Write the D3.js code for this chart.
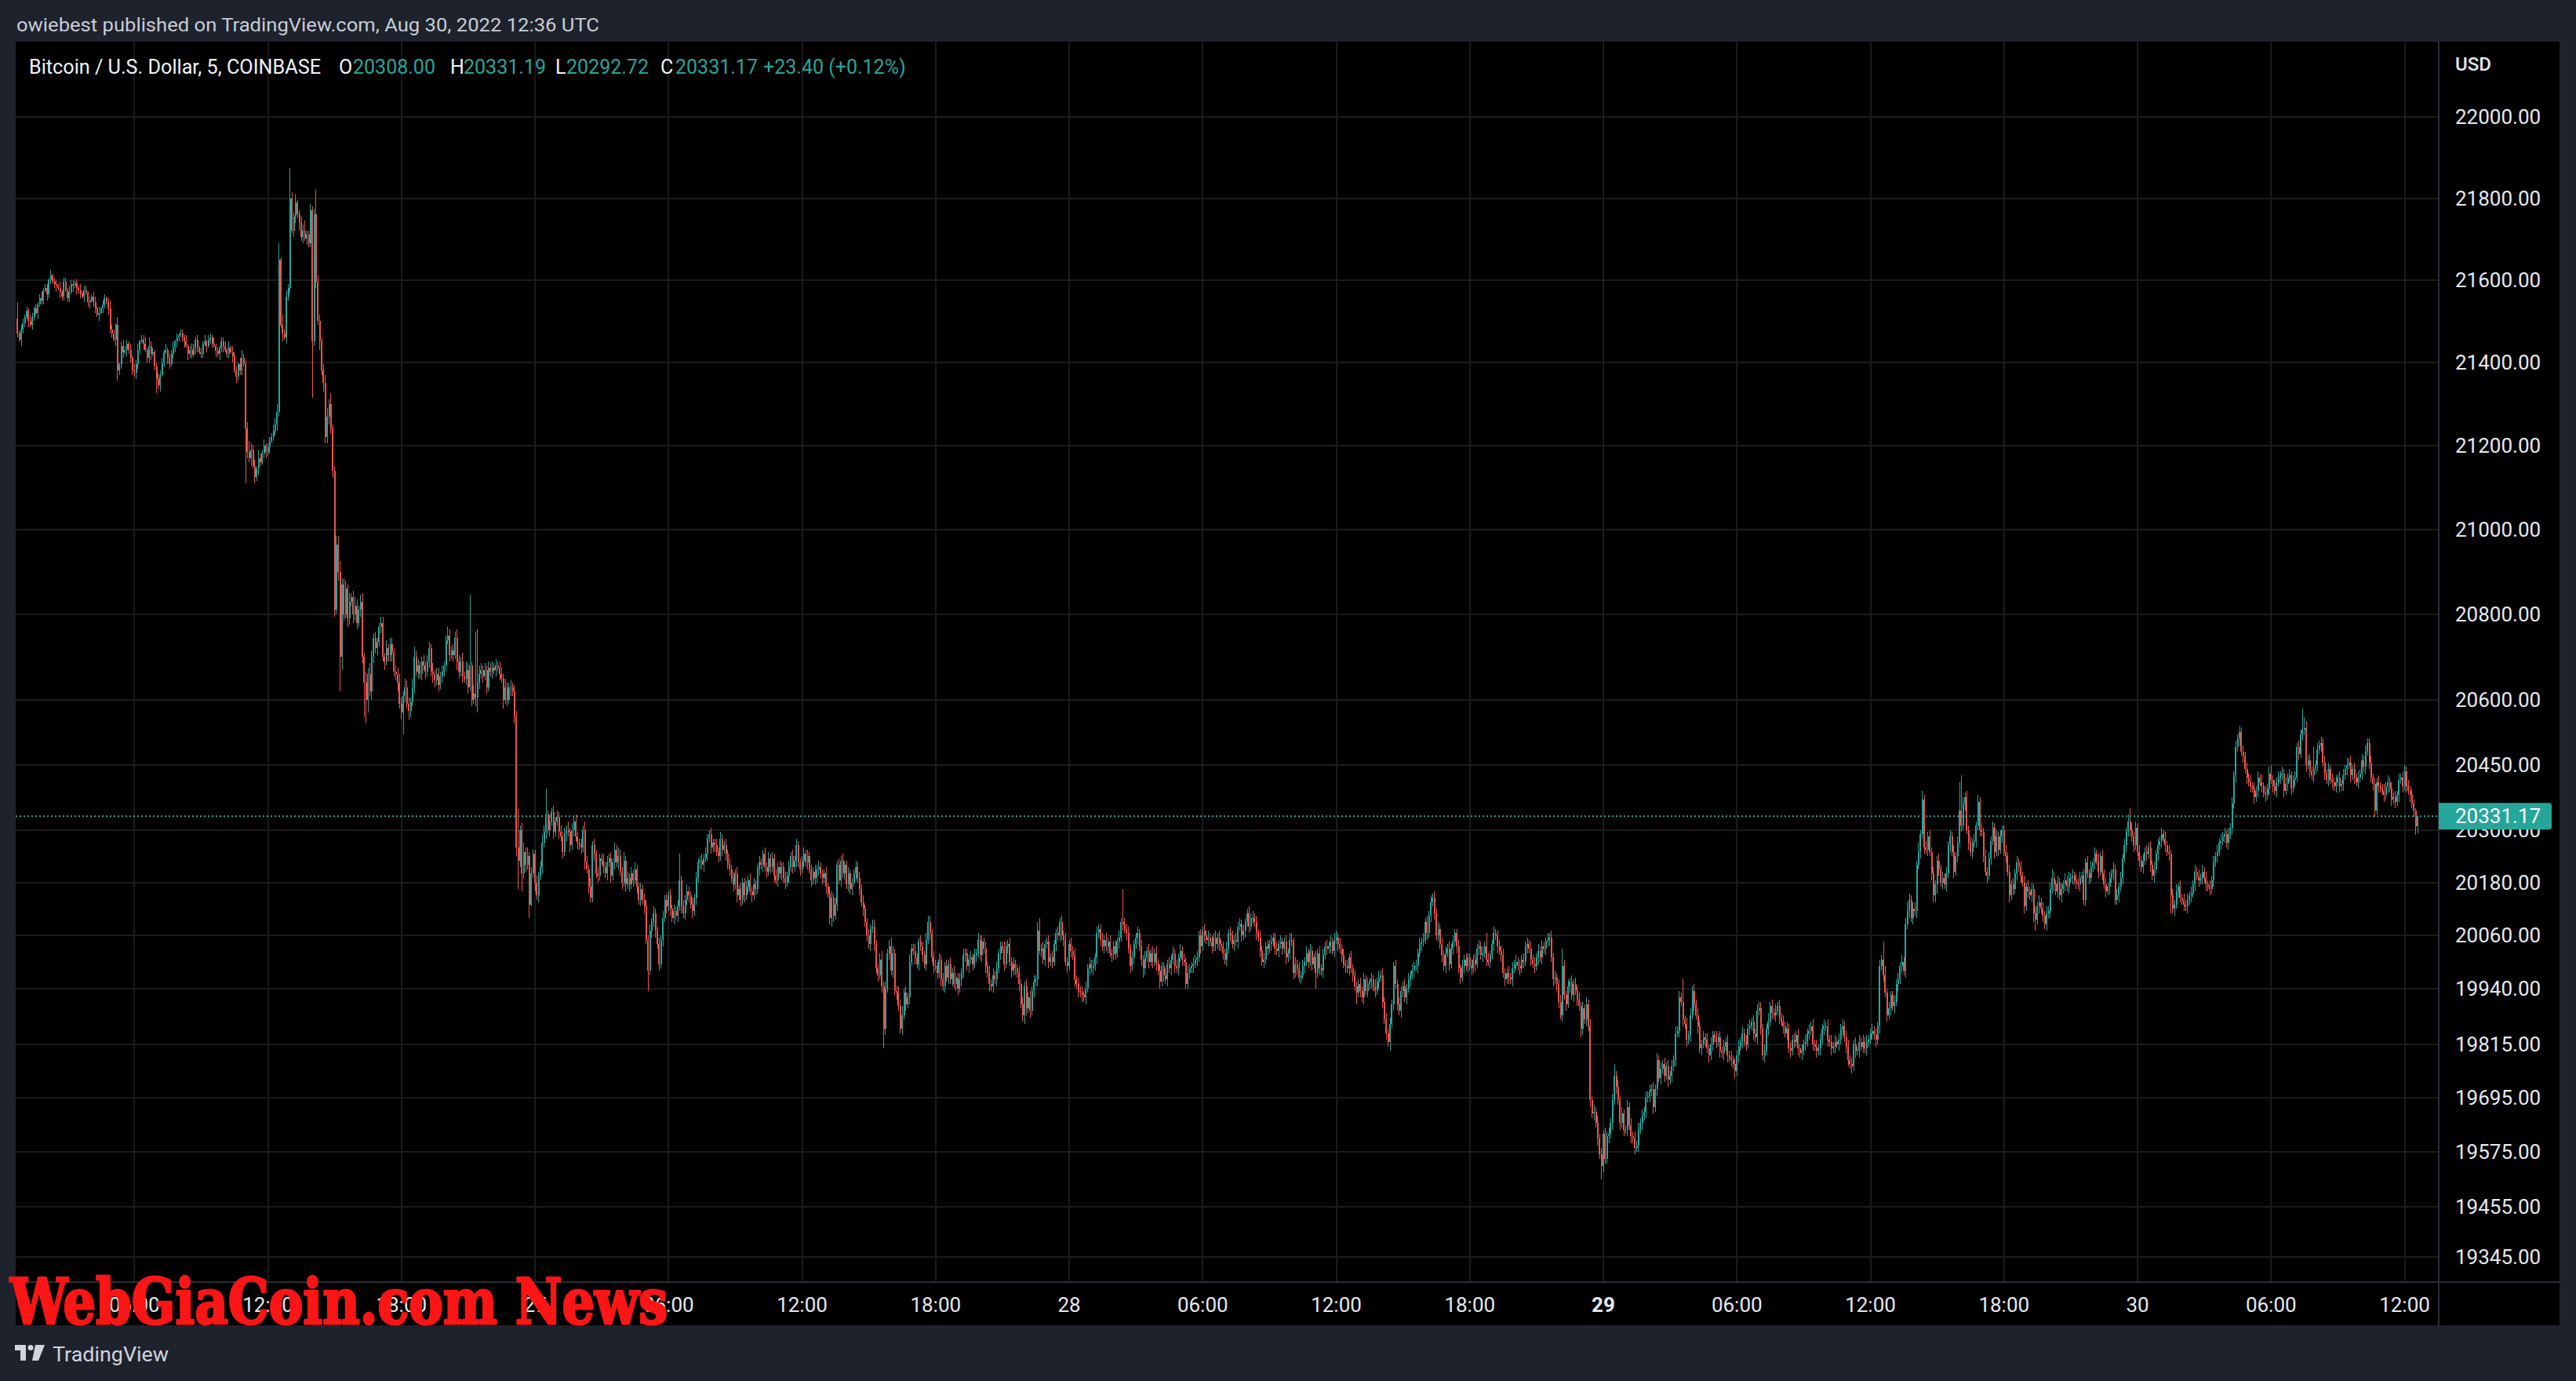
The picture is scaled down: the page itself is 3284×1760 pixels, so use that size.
<!DOCTYPE html>
<html><head><meta charset="utf-8">
<script src="https://cdn.jsdelivr.net/npm/d3@7"></script>
<style>html,body{margin:0;padding:0;background:#1e222d;overflow:hidden}svg{display:block}</style>
</head><body>
<svg id="chart" width="3284" height="1760"></svg>
<script>
// ---------------- DATA ----------------
const headerText = "owiebest published on TradingView.com, Aug 30, 2022 12:36 UTC";
const symbolText = "Bitcoin / U.S. Dollar, 5, COINBASE";
const ohlcLabels = ["O", "H", "L", "C"];
const ohlcValues = ["20308.00", "20331.19", "20292.72", "20331.17"];
const changeText = "+23.40 (+0.12%)";
const lastPrice = 20331.17;
const currency = "USD";
const watermarkText = "WebGiaCoin.com News";
const brandText = "TradingView";

const priceTicks = [22000, 21800, 21600, 21400, 21200, 21000, 20800, 20600, 20450, 20300,
  20180, 20060, 19940, 19815, 19695, 19575, 19455, 19345];

const timeTickDates = [
  "2022-08-26T06:00Z","2022-08-26T12:00Z","2022-08-26T18:00Z","2022-08-27T00:00Z",
  "2022-08-27T06:00Z","2022-08-27T12:00Z","2022-08-27T18:00Z","2022-08-28T00:00Z",
  "2022-08-28T06:00Z","2022-08-28T12:00Z","2022-08-28T18:00Z","2022-08-29T00:00Z",
  "2022-08-29T06:00Z","2022-08-29T12:00Z","2022-08-29T18:00Z","2022-08-30T00:00Z",
  "2022-08-30T06:00Z","2022-08-30T12:00Z"];
const timeTickLabels = ["06:00","12:00","18:00","27","06:00","12:00","18:00","28",
  "06:00","12:00","18:00","29","06:00","12:00","18:00","30","06:00","12:00"];
const timeTickBold = ["29"];

// 5-minute candles, first candle Aug 26 00:45 UTC; one row per hour
const firstCandle = "2022-08-26T00:45Z";
const firstOpen = 21505;
const closes = [
21470,21455,21480,
21495,21510,21525,21500,21490,21510,21530,21520,21540,21555,21550,21575,
21580,21565,21600,21610,21595,21590,21585,21580,21570,21560,21595,21575,
21555,21570,21590,21585,21592,21580,21575,21565,21560,21575,21568,21545,
21550,21560,21545,21530,21515,21520,21530,21540,21555,21545,21530,21480,
21470,21455,21490,21380,21395,21440,21425,21430,21445,21430,21410,21380,
21375,21395,21430,21450,21455,21445,21430,21410,21440,21420,21425,21390,
21360,21345,21370,21400,21425,21430,21410,21395,21420,21435,21450,21460,
21465,21470,21460,21450,21440,21420,21430,21418,21435,21455,21435,21425,
21420,21445,21450,21440,21455,21460,21445,21440,21428,21420,21435,21450,
21440,21430,21420,21435,21425,21415,21380,21365,21395,21380,21410,21395,
21240,21185,21170,21190,21150,21125,21145,21170,21160,21180,21200,21185,
21195,21210,21220,21235,21250,21280,21650,21490,21470,21460,21560,21580,
21800,21720,21755,21790,21760,21740,21705,21720,21700,21710,21690,21770,
21450,21760,21595,21500,21450,21380,21350,21220,21270,21300,21240,21140,
20810,20965,20900,20700,20870,20800,20860,20790,20830,20840,20800,20820,
20780,20810,20830,20700,20640,20600,20660,20620,20700,20745,20720,20735,
20770,20780,20700,20690,20720,20705,20730,20710,20665,20660,20640,20590,
20570,20610,20630,20590,20575,20595,20630,20700,20665,20680,20660,20690,
20680,20665,20690,20720,20665,20660,20645,20660,20635,20655,20665,20680,
20740,20750,20705,20715,20705,20745,20690,20665,20690,20655,20650,20670,
20630,20680,20600,20615,20605,20640,20660,20670,20655,20670,20630,20675,
20665,20675,20670,20680,20675,20660,20650,20600,20630,20600,20625,20630,
20620,20560,20260,20230,20300,20200,20250,20220,20240,20130,20200,20245,
20180,20150,20195,20215,20270,20295,20335,20300,20320,20340,20295,20320,
20330,20295,20285,20250,20290,20300,20295,20265,20300,20320,20285,20270,
20265,20260,20300,20225,20210,20170,20145,20265,20245,20200,20195,20235,
20230,20215,20200,20225,20235,20195,20225,20255,20225,20240,20205,20180,
20230,20175,20190,20175,20200,20185,20210,20170,20140,20165,20140,20125,
20050,19980,20070,20090,20110,20070,20040,19995,20050,20100,20140,20125,
20150,20120,20100,20115,20105,20125,20185,20125,20110,20140,20160,20150,
20130,20115,20145,20190,20225,20230,20220,20235,20245,20280,20290,20260,
20270,20265,20250,20240,20280,20255,20265,20245,20220,20210,20190,20175,
20200,20150,20165,20140,20180,20150,20170,20185,20160,20150,20175,20165,
20210,20225,20220,20245,20215,20205,20235,20215,20235,20195,20185,20215,
20200,20215,20190,20180,20195,20215,20240,20215,20230,20265,20225,20210,
20230,20245,20225,20240,20210,20185,20205,20190,20210,20215,20200,20190,
20200,20170,20155,20100,20145,20105,20130,20220,20185,20230,20200,20220,
20175,20200,20165,20180,20200,20215,20190,20165,20135,20120,20090,20060,
20040,20075,20080,20040,19985,19970,20005,19945,19850,19940,20020,20035,
19980,20020,19935,19930,19900,19850,19880,19930,19905,19920,20000,20030,
20025,20010,19995,20045,20035,20015,19995,20050,20090,20065,20010,19990,
19990,19975,20005,19960,19945,19990,19965,19995,19960,19975,19950,19965,
19940,19960,19975,20015,20020,19990,20005,20010,19995,20015,20020,20050,
20015,20045,20030,19990,19975,19950,19945,19970,19960,19985,20020,20035,
20030,19995,20035,20040,20000,19980,19995,19985,19975,19950,19905,19880,
19945,19895,19920,19890,19935,19955,19960,20070,20025,20030,20005,20040,
20045,20000,20010,20000,20040,20065,20060,20090,20060,20050,20000,19990,
20040,20025,20015,19960,19950,19935,19930,19925,19920,19940,19985,19995,
19985,19990,20010,20065,20075,20050,20035,20050,20035,20045,20020,20015,
20035,20020,20045,20055,20090,20085,20075,20065,20030,19990,20010,20040,
20055,20065,20035,20005,19985,20010,20025,20000,20020,20000,20020,19995,
19980,19955,19990,19970,19960,19995,19985,20005,20020,19990,19985,20010,
20025,20005,20000,19950,19975,19985,19990,19995,20005,20010,20060,20035,
20070,20060,20050,20055,20045,20035,20055,20040,20055,20040,20035,20020,
20005,20030,20065,20060,20040,20050,20045,20080,20085,20060,20070,20090,
20110,20080,20100,20100,20090,20065,20055,20025,20000,20005,20035,20030,
20040,20045,20055,20030,20025,20040,20045,20030,20045,20010,20020,20050,
20045,19975,19995,19985,19965,19970,19990,20000,20020,20000,20025,19995,
20010,19975,20020,19985,19980,20015,20035,20030,20035,20045,20025,20050,
20055,20040,20030,20015,19995,19990,19985,20010,19985,19970,19945,19930,
19950,19935,19920,19960,19935,19950,19955,19960,19945,19935,19955,19965,
19970,19910,19870,19840,19820,19860,19905,19990,19950,19905,19890,19935,
19945,19920,19940,19960,19970,19980,19990,19990,20020,20040,20045,20050,
20090,20065,20105,20135,20145,20110,20060,20075,20040,20015,19990,20020,
20030,19995,20030,20045,20065,20035,19985,19965,19990,20005,19990,20010,
19990,19985,20005,19995,20030,20035,20015,20020,20035,20005,20000,20015,
20040,20065,20060,20035,20025,20015,19975,19960,19975,19965,19960,19985,
19995,20000,19990,19985,20005,20000,20035,20040,20030,20005,19995,19990,
20010,20025,20010,20035,20030,20045,20050,20055,20010,19960,19965,19950,
19910,19880,19990,19925,19905,19945,19955,19925,19950,19935,19915,19900,
19850,19895,19870,19905,19855,19690,19660,19665,19640,19605,19570,19545,
19615,19560,19610,19615,19640,19690,19745,19720,19690,19640,19660,19625,
19625,19675,19635,19610,19605,19585,19590,19625,19640,19655,19665,19695,
19700,19710,19715,19675,19715,19780,19740,19760,19770,19745,19765,19735,
19745,19765,19780,19840,19845,19920,19910,19870,19860,19825,19835,19880,
19935,19905,19880,19855,19805,19815,19830,19825,19805,19790,19815,19835,
19830,19820,19830,19800,19795,19810,19820,19790,19785,19780,19770,19755,
19790,19810,19820,19840,19820,19815,19850,19855,19865,19840,19830,19890,
19895,19850,19790,19800,19850,19865,19900,19885,19880,19890,19900,19875,
19865,19855,19840,19850,19805,19800,19825,19820,19835,19805,19795,19800,
19815,19820,19840,19845,19855,19815,19810,19800,19805,19825,19850,19855,
19855,19825,19820,19805,19810,19820,19815,19825,19850,19855,19830,19810,
19780,19770,19765,19815,19800,19800,19820,19810,19820,19805,19820,19825,
19840,19845,19835,19825,19855,19990,20005,19970,19930,19880,19895,19925,
19900,19910,19950,19960,19990,20000,19980,20085,20115,20140,20100,20120,
20115,20220,20250,20290,20370,20260,20255,20285,20250,20200,20150,20175,
20230,20210,20180,20190,20175,20200,20265,20285,20250,20205,20240,20270,
20345,20310,20360,20375,20300,20270,20250,20270,20275,20310,20365,20300,
20295,20240,20205,20195,20235,20275,20305,20250,20285,20255,20285,20300,
20250,20240,20205,20150,20175,20165,20200,20225,20215,20195,20180,20125,
20170,20160,20150,20165,20110,20095,20125,20135,20120,20105,20085,20110,
20115,20165,20190,20175,20160,20180,20150,20165,20175,20185,20170,20190,
20190,20195,20185,20180,20175,20190,20195,20140,20225,20200,20190,20215,
20225,20245,20230,20205,20240,20200,20175,20160,20170,20190,20200,20210,
20140,20150,20170,20190,20235,20265,20295,20320,20300,20285,20265,20305,
20250,20230,20215,20230,20250,20245,20260,20220,20195,20210,20245,20265,
20275,20290,20280,20265,20250,20245,20150,20120,20130,20160,20170,20145,
20140,20130,20125,20140,20150,20155,20175,20205,20195,20185,20190,20205,
20190,20175,20170,20165,20185,20225,20240,20250,20270,20275,20285,20290,
20270,20290,20305,20360,20425,20490,20510,20525,20480,20470,20440,20420,
20410,20400,20395,20375,20390,20420,20410,20400,20385,20380,20395,20430,
20415,20400,20390,20410,20420,20425,20430,20390,20405,20420,20425,20395,
20415,20420,20490,20475,20520,20530,20535,20450,20460,20435,20425,20440,
20450,20485,20495,20500,20455,20430,20415,20440,20415,20410,20400,20410,
20420,20400,20405,20425,20440,20450,20455,20425,20440,20420,20410,20420,
20430,20460,20445,20480,20500,20455,20420,20405,20345,20410,20400,20395,
20390,20380,20400,20410,20395,20370,20375,20365,20380,20415,20420,20400,
20435,20400,20390,20380,20360,20345,20308,20331.17
];
// upper / lower wick length per candle, base-36 digit x 5 USD, one group per hour
const wickUpCodes = ["812",
"212132121231","221312213122","132212131221","212313122124","221412322131","323122314221",
"232213122312","122131232121","213122131212","221313221342","235323142231","222334815232",
"f32412335223","23c332344252","244533424234","323425353232","233242332334","324332453322",
"323324233232","243233432424","3x24tp432323","232323324233","233i23424232","232343c23232",
"323232423232","232432423232","232323232432","423232322323","323232232323","232323c23232",
"232322323223","223232232323","232322323232","232232323232","322323232322","232322232322",
"232332323232","232223232322","323322342323","432233423232","232232233323","323232323232",
"232322232323","232323232322","232232322323","232323246232","232322323232","232323232323",
"232322323232","23232f323232","232323232323","232232323232","323232232323","232323232322",
"232322323232","232323232323","232232322323","323232323232","232323232323","323232323222",
"232323232323","232323223232","232323232323","232323232323","232322323232","232323232632",
"232232322323","232323232323","232322323232","238323232323","232323232323","232323523232",
"232323232323","232323232323","2323232a2323","232322323232","232323232323","232323232323",
"332324232323","232323232323","232323232323","232323232323","323232323232","232323284232",
"232323234323","324242323232","232323232323","dg3232323232","323232323232","232323232323",
"232323232323","234323232323","232323232323","232323232323","232323236323","232323232323",
"232323232323","232323232323","232323232323","232323232323","232323232323","423232323232",
"23232a53232a","232323232323","232323232323","232322323232","232323232323","32323210"].join("");
const wickDnCodes = ["213",
"221312213122","132212313221","221313221312","312213122132","213522313222","232213122312",
"723121321223","212313221321","221312213132","312213132221","q32413232123","231223214132",
"213324231322","r23242433423","324g63243243","3233gb624323","232423342342","3a3243232323",
"232324323232","323232432323","323247323232","232323242323","234d38232612","423232323232",
"232323232323","232323223232","232323232323","232323232323","292323232323","232323232323",
"232323232323","232323232323","232323232323","232323232323","232323232323","232323232323",
"232343232323","232323232323","232323239323","232322323232","232323232323","232323232323",
"323232323232","232323232323","232323232323","432323232323","232323232323","232323232323",
"232323232323","232323232323","232343232323","232323232323","232223232323","232323232323",
"232323232323","232323232323","232323232323","232323232323","272323232323","232323232325",
"232323232323","232324232323","323232323232","232323232323","232323232323","232323232323",
"232323232323","232323232323","232323232323","323232323232","432323232326","322323232323",
"232323232323","232323232323","232323232323","232323232323","232323232323","232323232323",
"232323232323","232323232323","232323232323","232323232323","323232323232","232323232323",
"232323232323","232323232333","432323232323","232323232323","232323232323","232323232323",
"232345232323","232323232323","232323223232","232323232323","223232323232","232323232323",
"232323823232","232323232323","232323232323","232323232323","232323232323","232323232323",
"232323232323","232323232323","232323232323","232323233232","232323232323","23232343"].join("");

// ---------------- CHART ----------------
const W = 3284, H = 1760;
const pane = {left: 20, top: 53, right: 3109, bottom: 1634};
const axisRight = 3263, axisBottom = 1689;
const UP = "#26a69a", DOWN = "#ef5350";
const FONT = "Roboto, 'Noto Sans', sans-serif";

const svg = d3.select("#chart");

const x = d3.scaleUtc()
  .domain([new Date("2022-08-28T00:00Z"), new Date("2022-08-30T12:00Z")])
  .range([1363, 3065.5]);
const y = d3.scaleLog().domain([19290.1, 22188.6]).range([pane.bottom, pane.top]);

const t0 = new Date(firstCandle).getTime();
const candles = closes.map((c, i) => {
  const o = i === 0 ? firstOpen : closes[i - 1];
  const up = parseInt(wickUpCodes[i] || "1", 36) * 5;
  const dn = parseInt(wickDnCodes[i] || "1", 36) * 5;
  return {t: new Date(t0 + i * 300000), o, c, h: Math.max(o, c) + up, l: Math.min(o, c) - dn};
});
candles[candles.length - 1].h = 20331.19;
candles[candles.length - 1].l = 20292.72;

// frames
svg.append("rect").attr("width", W).attr("height", H).attr("fill", "#1e222d");
svg.append("rect").attr("x", pane.left).attr("y", pane.top)
  .attr("width", axisRight - pane.left).attr("height", axisBottom - pane.top).attr("fill", "#000");

const defs = svg.append("defs");
defs.append("clipPath").attr("id", "paneClip").append("rect")
  .attr("x", pane.left).attr("y", pane.top)
  .attr("width", pane.right - pane.left).attr("height", pane.bottom - pane.top);

// grid
const grid = svg.append("g").attr("shape-rendering", "crispEdges");
grid.selectAll("line.h").data(priceTicks).join("line")
  .attr("x1", pane.left).attr("x2", pane.right)
  .attr("y1", d => y(d)).attr("y2", d => y(d))
  .attr("stroke", "#1a1b1e").attr("stroke-width", 2);
const tickDates = timeTickDates.map(s => new Date(s));
grid.selectAll("line.v").data(tickDates).join("line")
  .attr("x1", d => x(d)).attr("x2", d => x(d))
  .attr("y1", pane.top).attr("y2", pane.bottom)
  .attr("stroke", "#1a1b1e").attr("stroke-width", 2);

// separators
svg.append("line").attr("x1", pane.left).attr("x2", axisRight).attr("y1", pane.bottom).attr("y2", pane.bottom)
  .attr("stroke", "#2a2e39").attr("stroke-width", 2);
svg.append("line").attr("x1", pane.right).attr("x2", pane.right).attr("y1", pane.top).attr("y2", axisBottom)
  .attr("stroke", "#2a2e39").attr("stroke-width", 2);

// candles
const cg = svg.append("g").attr("clip-path", "url(#paneClip)").attr("shape-rendering", "crispEdges");
cg.selectAll("rect.w").data(candles).join("rect")
  .attr("x", d => x(d.t) - 0.5).attr("width", 1)
  .attr("y", d => y(d.h)).attr("height", d => Math.max(1, y(d.l) - y(d.h)))
  .attr("fill", d => d.c >= d.o ? UP : DOWN);
cg.selectAll("rect.b").data(candles).join("rect")
  .attr("x", d => x(d.t) - 1).attr("width", 2)
  .attr("y", d => y(Math.max(d.o, d.c)))
  .attr("height", d => Math.max(1, Math.abs(y(d.o) - y(d.c))))
  .attr("fill", d => d.c >= d.o ? UP : DOWN);

// last price line
svg.append("line").attr("x1", pane.left).attr("x2", pane.right)
  .attr("y1", y(lastPrice)).attr("y2", y(lastPrice))
  .attr("stroke", UP).attr("stroke-width", 2).attr("stroke-dasharray", "2,3");

// price axis labels
svg.append("g").selectAll("text").data(priceTicks).join("text")
  .attr("x", 3130).attr("y", d => y(d) + 9)
  .attr("fill", "#e6e8ee").attr("font-family", FONT).attr("font-size", 26)
  .text(d => d.toFixed(2));
svg.append("text").attr("x", 3130).attr("y", 90).attr("fill", "#e6e8ee")
  .attr("font-family", FONT).attr("font-size", 24).attr("font-weight", 500).text(currency);

// last price tag
const ly = y(lastPrice);
svg.append("path")
  .attr("d", `M${pane.right},${ly - 17} H${3249} a4,4 0 0 1 4,4 V${ly + 13} a4,4 0 0 1 -4,4 H${pane.right} Z`)
  .attr("fill", UP);
svg.append("text").attr("x", 3130).attr("y", ly + 9).attr("fill", "#fff")
  .attr("font-family", FONT).attr("font-size", 26).text(lastPrice.toFixed(2));

// time axis labels
svg.append("g").selectAll("text").data(tickDates).join("text")
  .attr("x", d => x(d)).attr("y", 1672).attr("text-anchor", "middle")
  .attr("fill", "#e6e8ee").attr("font-family", FONT).attr("font-size", 26)
  .attr("font-weight", (d, i) => timeTickBold.includes(timeTickLabels[i]) ? 700 : 400)
  .text((d, i) => timeTickLabels[i]);

// header
svg.append("text").attr("x", 21).attr("y", 40).attr("fill", "#c9ccd4")
  .attr("font-family", FONT).attr("font-size", 23)
  .attr("textLength", 743).attr("lengthAdjust", "spacingAndGlyphs").text(headerText);

// legend
const lg = svg.append("g").attr("font-family", FONT).attr("font-size", 25);
lg.append("text").attr("x", 37).attr("y", 94).attr("fill", "#f0f3fa")
  .attr("textLength", 372).attr("lengthAdjust", "spacingAndGlyphs").text(symbolText);
const labelX = [432, 574, 708, 842], valueX = [450, 591, 722, 861];
ohlcLabels.forEach((l, i) => {
  lg.append("text").attr("x", labelX[i]).attr("y", 94).attr("fill", "#f0f3fa").text(l);
  lg.append("text").attr("x", valueX[i]).attr("y", 94).attr("fill", UP).text(ohlcValues[i]);
});
lg.append("text").attr("x", 973).attr("y", 94).attr("fill", UP).text(changeText);

// watermark
svg.append("text").attr("x", 13).attr("y", 1687)
  .attr("fill", "#fb1515").attr("stroke", "#fb1515").attr("stroke-width", 3)
  .attr("stroke-linejoin", "round")
  .attr("font-family", "'DejaVu Serif Condensed','DejaVu Serif',serif")
  .attr("font-weight", 700).attr("font-stretch", "condensed").attr("font-size", 80)
  .attr("textLength", 838).attr("lengthAdjust", "spacingAndGlyphs").text(watermarkText);

// brand
const bg = svg.append("g").attr("fill", "#d1d4dc");
bg.append("rect").attr("x", 19).attr("y", 1714).attr("width", 14).attr("height", 7);
bg.append("rect").attr("x", 26).attr("y", 1714).attr("width", 7).attr("height", 20);
bg.append("circle").attr("cx", 39).attr("cy", 1717.5).attr("r", 3.5);
bg.append("path").attr("d", "M45,1714 H57 L49,1734 H41 Z");
bg.append("text").attr("x", 67).attr("y", 1735).attr("font-family", FONT).attr("font-size", 26)
  .attr("textLength", 148).attr("lengthAdjust", "spacingAndGlyphs").text(brandText);
</script>
</body></html>
